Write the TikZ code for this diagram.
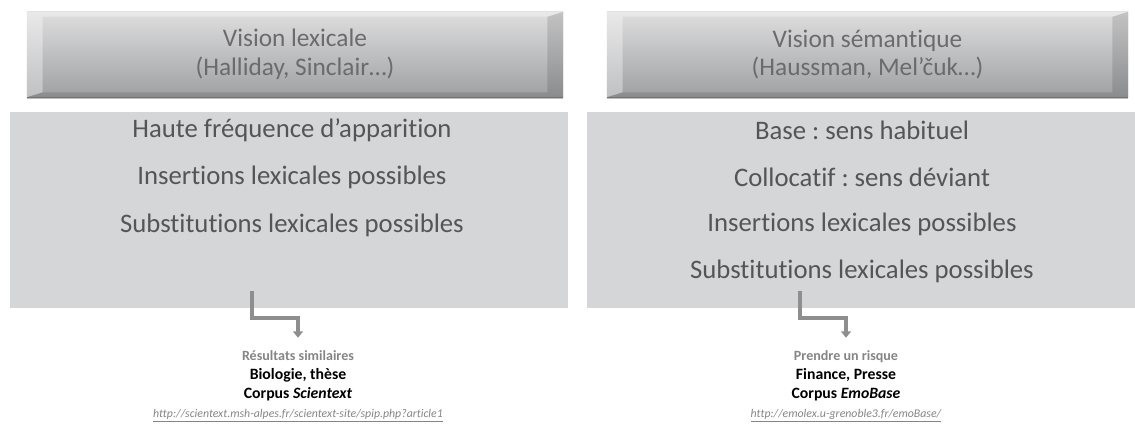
\documentclass[tikz,border=0pt]{standalone}
\usepackage{fontspec}
\setmainfont{Carlito}[Ligatures={NoCommon}]
\usetikzlibrary{arrows.meta, positioning, calc}

\definecolor{bodygray}{HTML}{D5D6D8}
\definecolor{headtop}{HTML}{DEDEDF}
\definecolor{headbot}{HTML}{9FA0A2}
\definecolor{textgray}{HTML}{555555}
\definecolor{headtext}{HTML}{6B6B6B}
\definecolor{resgray}{HTML}{858585}
\definecolor{arrowgray}{HTML}{8E8E8E}

\tikzset{
  header/.style={rectangle, top color=headtop, bottom color=headbot, minimum height=2.125cm,
    text=headtext, align=center, font=\fontsize{18}{20.5}\selectfont},
  bevellight/.style={fill=white, opacity=0.35},
  beveldark/.style={fill=black, opacity=0.12},
  bodybox/.style={rectangle, fill=bodygray, minimum height=4.9cm},
  item/.style={text=textgray, font=\fontsize{19}{22}\selectfont},
  result/.style={align=center, inner sep=1pt, font=\bfseries\fontsize{11.2}{13.5}\selectfont},
  flow/.style={arrowgray, line width=2.2pt, -{Triangle[width=7pt,length=4.5pt]}}
}

\newcommand{\weblink}[1]{{\mdseries\itshape\color{resgray}\fontsize{8.4}{13.5}\selectfont\underline{#1}}}
\newcommand{\leadline}[1]{{\color{resgray}\fontsize{10}{13.5}\selectfont #1}}

\begin{document}
\frenchspacing
\begin{tikzpicture}[x=0.025cm, y=-0.025cm]
  \useasboundingbox (0,0) rectangle (1135,432);

  % Headers
  \node[header, minimum width=13.4cm] (headL) at (295,54.5) {Vision lexicale\\(Halliday, Sinclair…)};
  \node[header, minimum width=13.025cm] (headR) at (867.5,54.5) {Vision sémantique\\(Haussman, Mel’čuk…)};

  % Bevel edges of the headers
  \foreach \h in {headL, headR} {
    \fill[bevellight] (\h.north west) -- ([shift={(16,5)}]\h.north west)
      -- ([shift={(16,-5)}]\h.south west) -- (\h.south west) -- cycle;
    \fill[beveldark] (\h.north east) -- ([shift={(-16,5)}]\h.north east)
      -- ([shift={(-16,-5)}]\h.south east) -- (\h.south east) -- cycle;
    \fill[bevellight] (\h.north west) -- (\h.north east)
      -- ([shift={(-16,5)}]\h.north east) -- ([shift={(16,5)}]\h.north west) -- cycle;
    \fill[beveldark] (\h.south west) -- (\h.south east)
      -- ([shift={(-16,-5)}]\h.south east) -- ([shift={(16,-5)}]\h.south west) -- cycle;
    \draw[black, opacity=0.25, line width=1pt] ([yshift=-0.5pt]\h.south west) -- ([yshift=-0.5pt]\h.south east);
  }

  % Bodies
  \node[bodybox, minimum width=13.95cm] (bodyL) at (289,210) {};
  \node[bodybox, minimum width=13.7cm] (bodyR) at (861,210) {};

  % Left items
  \node[item] (lexA) at (292,130) {Haute fréquence d’apparition};
  \node[item] (lexB) at (292,177) {Insertions lexicales possibles};
  \node[item] (lexC) at (292,225) {Substitutions lexicales possibles};

  % Right items
  \node[item] (semA) at (862,130) {Base : sens habituel};
  \node[item] (semB) at (862,177) {Collocatif : sens déviant};
  \node[item] (semC) at (862,224) {Insertions lexicales possibles};
  \node[item] (semD) at (862,271) {Substitutions lexicales possibles};

  % Results
  \node[result, anchor=north] (resL) at (298,349) {\leadline{Résultats similaires}\\Biologie, thèse\\Corpus \textit{Scientext}\\
    \weblink{http://scientext.msh-alpes.fr/scientext-site/spip.php?article1}};
  \node[result, anchor=north] (resR) at (846,349) {\leadline{Prendre un risque}\\Finance, Presse\\Corpus \textit{EmoBase}\\
    \weblink{http://emolex.u-grenoble3.fr/emoBase/}};

  % Arrows
  \coordinate (startL) at (252,291);
  \coordinate (startR) at (800,291);
  \draw[flow] (startL) -- ++(0,27) -| ([yshift=8pt]resL.north);
  \draw[flow] (startR) -- ++(0,27) -| ([yshift=8pt]resR.north);
\end{tikzpicture}
\end{document}
